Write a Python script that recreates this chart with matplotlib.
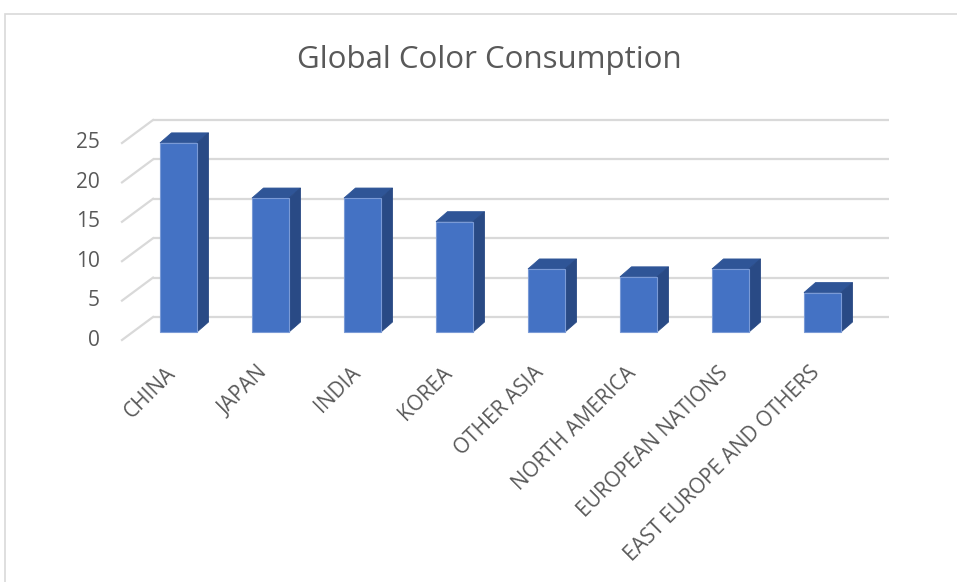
import matplotlib
matplotlib.use("Agg")
import matplotlib.pyplot as plt
from matplotlib.patches import Polygon, Rectangle

plt.rcParams['font.family'] = 'Open Sans'

categories = ["CHINA", "JAPAN", "INDIA", "KOREA", "OTHER ASIA", "NORTH AMERICA",
              "EUROPEAN NATIONS", "EAST EUROPE AND OTHERS"]
values = [24, 17, 17, 14, 8, 7, 8, 5]
yticks = [0, 5, 10, 15, 20, 25]

W, H = 957, 582
fig = plt.figure(figsize=(W / 100, H / 100), dpi=100)

# back wall of the 3d plot, in pixels: x 153..889, y 120..317
ax = fig.add_axes([153 / W, (H - 317) / H, 736 / W, 197 / H])
ax.set_xlim(-0.5, len(categories) - 0.5)
ax.set_ylim(0, 25)
ax.axis('off')

px_x = 736 / len(categories)
px_y = 197 / 25


def shift(dx_px, dy_px):
    # pixel offset (down = positive) -> data offset
    return dx_px / px_x, -dy_px / px_y


grid_col = '#d9d9d9'
text_col = '#595959'
gdx, gdy = shift(-31, 23)     # front edge of side wall
fdx, fdy = shift(-20.5, 15)   # front face of bars
bdx, bdy = shift(-9, 5)       # back face of bars
bw = 37 / px_x

# gridlines: back wall + side wall
for v in yticks:
    ax.plot([-0.5, len(categories) - 0.5], [v, v], color=grid_col, lw=1.6,
            solid_capstyle='butt', zorder=1, clip_on=False)
    ax.plot([-0.5, -0.5 + gdx], [v, v + gdy], color=grid_col, lw=1.6,
            zorder=1, clip_on=False)
    ax.text(-0.5 + gdx - 22 / px_x, v + gdy, str(v), ha='right', va='center',
            fontsize=15, color=text_col)

# 3d-looking bars
for i, v in enumerate(values):
    x0f, x1f = i + fdx - bw / 2, i + fdx + bw / 2
    x0b, x1b = i + bdx - bw / 2, i + bdx + bw / 2
    top = Polygon([(x0f, v + fdy), (x1f, v + fdy), (x1b, v + bdy), (x0b, v + bdy)],
                  closed=True, facecolor='#2f5597', edgecolor='#2f5597', lw=0.6,
                  zorder=3, clip_on=False)
    side = Polygon([(x1f, fdy), (x1f, v + fdy), (x1b, v + bdy), (x1b, bdy)],
                   closed=True, facecolor='#294a85', edgecolor='#294a85', lw=0.6,
                   zorder=3, clip_on=False)
    front = Polygon([(x0f, fdy), (x1f, fdy), (x1f, v + fdy), (x0f, v + fdy)],
                    closed=True, facecolor='#4472c4', edgecolor='#7a9ad6', lw=0.8,
                    zorder=4, clip_on=False)
    for p in (top, side, front):
        ax.add_patch(p)

# rotated category labels
ldx = -26 / px_x
ldy = -(370 - 317) / px_y
for i, name in enumerate(categories):
    ax.text(i + ldx, ldy, name, rotation=45, rotation_mode='anchor',
            ha='right', va='center', fontsize=15, color=text_col, clip_on=False)

fig.text(489 / W, 1 - 60 / H, "Global Color Consumption", ha='center', va='center',
         fontsize=22.5, color=text_col)

# chart area border
fig.patches.append(Rectangle((5 / W, -0.1), 1.2, 1 - 14 / H + 0.1,
                             transform=fig.transFigure, fill=False,
                             edgecolor='#d9d9d9', lw=1.2))

fig.savefig("out.png", dpi=100)
